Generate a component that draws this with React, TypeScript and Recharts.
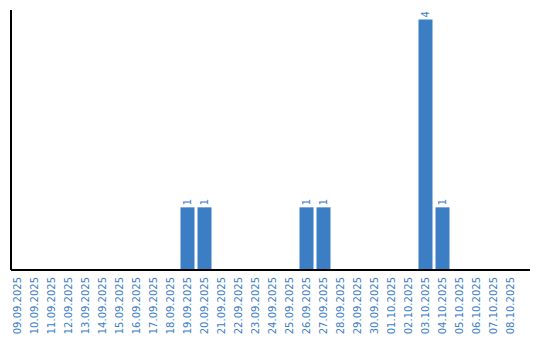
import React from "react";
import { BarChart, Bar, XAxis, YAxis, LabelList } from "recharts";

const dates = [
  "09.09.2025", "10.09.2025", "11.09.2025", "12.09.2025", "13.09.2025",
  "14.09.2025", "15.09.2025", "16.09.2025", "17.09.2025", "18.09.2025",
  "19.09.2025", "20.09.2025", "21.09.2025", "22.09.2025", "23.09.2025",
  "24.09.2025", "25.09.2025", "26.09.2025", "27.09.2025", "28.09.2025",
  "29.09.2025", "30.09.2025", "01.10.2025", "02.10.2025", "03.10.2025",
  "04.10.2025", "05.10.2025", "06.10.2025", "07.10.2025", "08.10.2025",
];
const counts = [
  0, 0, 0, 0, 0, 0, 0, 0, 0, 0,
  1, 1, 0, 0, 0, 0, 0, 1, 1, 0,
  0, 0, 0, 0, 4, 1, 0, 0, 0, 0,
];

const data = dates.map((d, i) => ({ date: d, value: counts[i] }));

const BLUE = "#3c7ec3";
const FONT = "'DejaVu Sans', sans-serif";

const Tick = (props: any) => {
  const { x, y, payload } = props;
  return (
    <g transform={`translate(${x},${y - 1}) rotate(-90)`}>
      <text x={0} y={0} dy={3.6} textAnchor="end" fill={BLUE} fontSize={10} fontFamily={FONT}>
        {payload.value}
      </text>
    </g>
  );
};

const ValueLabel = (props: any) => {
  const { x, y, width, value } = props;
  if (!value) return null;
  const cx = x + width / 2;
  return (
    <g transform={`translate(${cx},${y - 2}) rotate(-90)`}>
      <text x={0} y={0} dy={3.6} textAnchor="start" fill={BLUE} fontSize={10} fontFamily={FONT}>
        {value}
      </text>
    </g>
  );
};

export default function App() {
  return (
    <div style={{ position: "absolute", left: 0, top: 0 }}>
      <BarChart
        width={540}
        height={340}
        data={data}
        margin={{ top: 10, right: 10, left: 10, bottom: 0 }}
        barCategoryGap={1.5}
      >
        <XAxis
          dataKey="date"
          interval={0}
          height={70}
          tickLine={false}
          axisLine={{ stroke: "#000", strokeWidth: 2 }}
          tick={<Tick />}
          padding={{ left: -2, right: 11 }}
        />
        <YAxis
          width={1}
          tick={false}
          tickLine={false}
          axisLine={{ stroke: "#000", strokeWidth: 2 }}
          domain={[0, 4.15]}
        />
        <Bar dataKey="value" fill={BLUE} isAnimationActive={false}>
          <LabelList dataKey="value" content={<ValueLabel />} />
        </Bar>
      </BarChart>
    </div>
  );
}
